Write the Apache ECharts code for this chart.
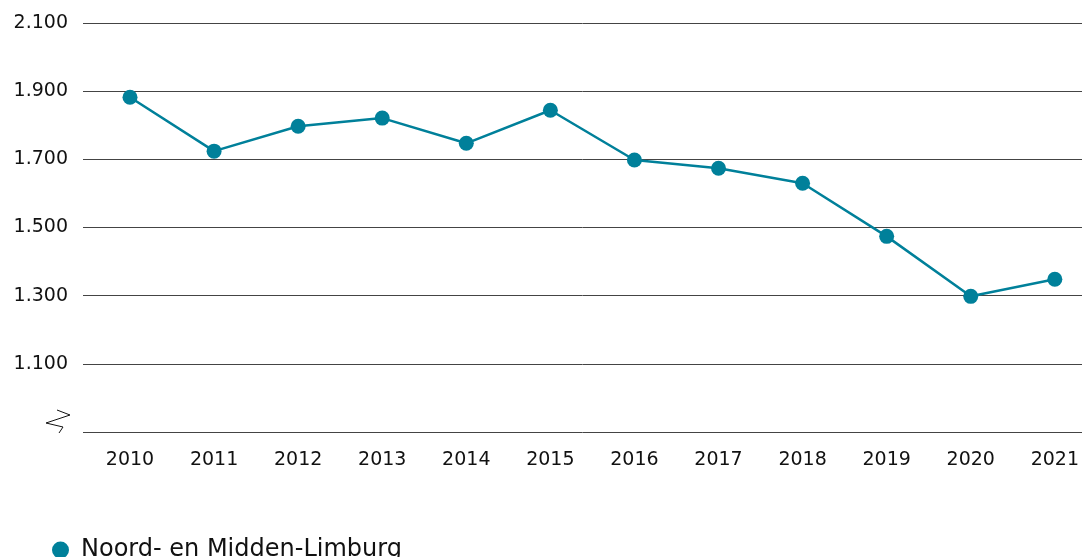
<!DOCTYPE html>
<html>
<head>
<meta charset="utf-8">
<script src="https://cdn.jsdelivr.net/npm/echarts@6/dist/echarts.min.js"></script>
<style>
  html, body { margin: 0; padding: 0; background: #fff; }
  #chart { width: 1082px; height: 557px; }
</style>
</head>
<body>
<div id="chart"></div>
<script>
// data
var years = ['2010','2011','2012','2013','2014','2015','2016','2017','2018','2019','2020','2021'];
var seriesName = 'Noord- en Midden-Limburg';
var values = [1882, 1724, 1797, 1821, 1747, 1844, 1698, 1674, 1630, 1474, 1298, 1348];
var yMin = 900, yMax = 2100, yStep = 200;

var chart = echarts.init(document.getElementById('chart'));
var font = '"DejaVu Sans", sans-serif';

function fmtNL(v) {
    if (v === yMin) return '';
    return String(v).replace(/\B(?=(\d{3})+(?!\d))/g, '.');
}

chart.setOption({
    animation: false,
    textStyle: { fontFamily: font },
    // grid 0: rasterlijnen + y-labels, grid 1: de lijn zelf
    grid: [
        { left: 83, right: 0, top: 23, bottom: 125 },
        { left: 130, right: 26, top: 23, bottom: 125 }
    ],
    legend: {
        left: 47,
        top: 533,
        icon: 'circle',
        itemWidth: 17,
        itemHeight: 17,
        textStyle: { fontSize: 24, color: '#111', fontFamily: font, padding: [0, 0, 0, 7] },
        data: [seriesName]
    },
    xAxis: [{
        type: 'category',
        gridIndex: 0,
        data: years,
        show: false
    }, {
        type: 'category',
        gridIndex: 1,
        data: years,
        boundaryGap: false,
        axisLine: { show: false },
        axisTick: { show: false },
        axisLabel: { margin: 19, fontSize: 19, color: '#111' }
    }],
    yAxis: [{
        type: 'value',
        gridIndex: 0,
        min: yMin,
        max: yMax,
        interval: yStep,
        axisLine: { show: false },
        axisTick: { show: false },
        splitLine: { lineStyle: { color: '#444', width: 1 } },
        axisLabel: { margin: 15, fontSize: 19, color: '#111', formatter: fmtNL }
    }, {
        type: 'value',
        gridIndex: 1,
        min: yMin,
        max: yMax,
        interval: yStep,
        show: false
    }],
    // asbreuk-symbool
    graphic: [{
        type: 'polyline',
        shape: { points: [[57, 410], [70, 415], [46, 423], [63, 427], [59, 433]] },
        style: { stroke: '#111', lineWidth: 1, fill: null }
    }],
    series: [{
        name: seriesName,
        type: 'line',
        xAxisIndex: 1,
        yAxisIndex: 1,
        data: values,
        color: '#00809A',
        symbol: 'circle',
        symbolSize: 15,
        lineStyle: { width: 2.5 }
    }]
});
</script>
</body>
</html>
